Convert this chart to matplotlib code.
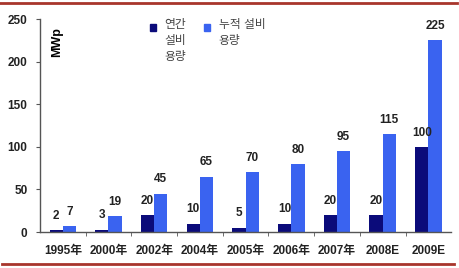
import matplotlib
matplotlib.use("Agg")
import matplotlib.pyplot as plt
from matplotlib.lines import Line2D
from matplotlib.patches import Rectangle
import numpy as np

plt.rcParams["font.family"] = ["Liberation Sans", "Noto Sans CJK KR", "DejaVu Sans"]

years = ["1995年", "2000年", "2002年", "2004年", "2005年", "2006年", "2007年", "2008E", "2009E"]
annual = [2, 3, 20, 10, 5, 10, 20, 20, 100]
cumulative = [7, 19, 45, 65, 70, 80, 95, 115, 225]
series_names = ["연간\n설비\n용량", "누적 설비\n용량"]

dark = "#0b0b7a"
light = "#3a63f0"
red = "#a8352c"

fig = plt.figure(figsize=(4.59, 2.68), dpi=100)
ax = fig.add_axes([0.087, 0.134, 0.896, 0.795])

x = np.arange(len(years))
w = 0.29
ax.bar(x - w / 2, annual, w, color=dark)
ax.bar(x + w / 2, cumulative, w, color=light)

for xi, a, c in zip(x, annual, cumulative):
    ax.annotate(str(a), (xi - w / 2, a), xytext=(0, 6), textcoords="offset points",
                ha="center", va="bottom", fontsize=8.5, fontweight="bold", color="#222222")
    ax.annotate(str(c), (xi + w / 2, c), xytext=(0, 6), textcoords="offset points",
                ha="center", va="bottom", fontsize=8.5, fontweight="bold", color="#222222")

ax.set_xlim(-0.5, len(years) - 0.5)
ax.set_ylim(0, 250)
ax.set_yticks([0, 50, 100, 150, 200, 250])
ax.set_xticks(x)
ax.set_xticklabels(years)
ax.set_xticks(np.arange(0.5, len(years) - 0.5, 1), minor=True)
ax.tick_params(axis="x", which="major", length=0, pad=9)
ax.tick_params(axis="x", which="minor", length=3, direction="out", color="#555555")
ax.tick_params(axis="y", length=3, direction="out", color="#555555", pad=6)
for lbl in ax.get_xticklabels() + ax.get_yticklabels():
    lbl.set_fontsize(8.5)
    lbl.set_fontweight("bold")
    lbl.set_color("#222222")

for s in ["top", "right"]:
    ax.spines[s].set_visible(False)
for s in ["left", "bottom"]:
    ax.spines[s].set_color("#555555")
    ax.spines[s].set_linewidth(1)

ax.text(0.042, 0.96, "MWp", transform=ax.transAxes, rotation=90,
        ha="center", va="top", fontsize=9, fontweight="bold")

# legend drawn by hand: square aligned with first text line
for (sx, tx), col, name in zip([(0.267, 0.303), (0.398, 0.435)], [dark, light], series_names):
    ax.add_patch(Rectangle((sx, 0.946), 0.016, 0.03, transform=ax.transAxes,
                           color=col, clip_on=False))
    ax.text(tx, 1.0, name, transform=ax.transAxes, ha="left", va="top",
            fontsize=8.5, color="#444444", linespacing=1.45)

fig.add_artist(Line2D([0, 0.995], [0.988, 0.988], color=red, lw=2))
fig.add_artist(Line2D([0.005, 0.99], [0.015, 0.015], color=red, lw=2))

fig.savefig("out.png", dpi=100)
